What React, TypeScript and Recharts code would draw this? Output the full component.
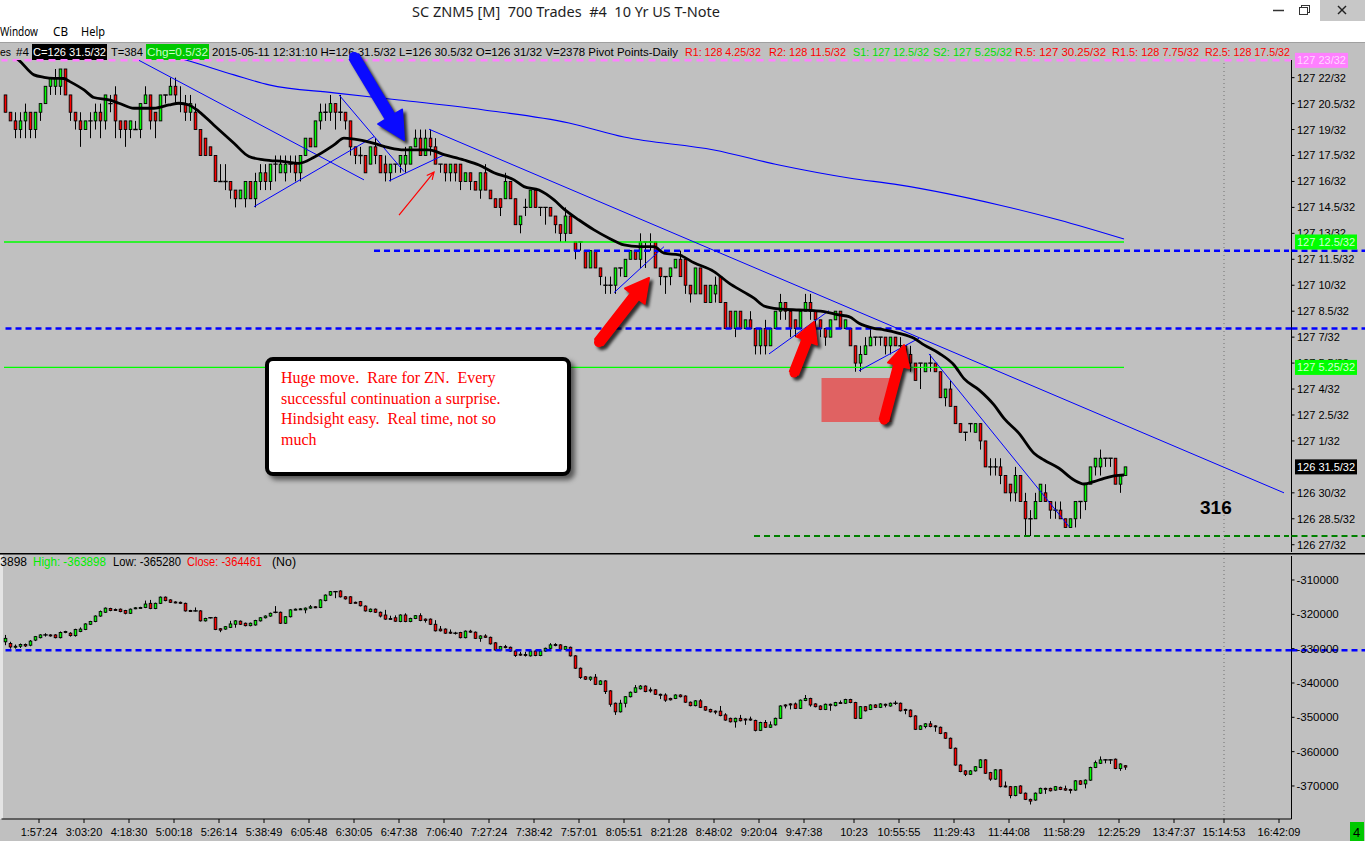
import React from 'react';
import { ComposedChart, Bar, Line, XAxis, YAxis, ReferenceLine, ReferenceArea } from 'recharts';

const FONT = "'Liberation Sans', Arial, Helvetica, sans-serif";
const UI_FONT = "'Noto Sans', 'Open Sans', 'Liberation Sans', sans-serif";
const UP = '#00ff00';
const DOWN = '#ff0000';
const TOTAL_SLOTS = 258;

// Price candles [open, high, low, close] in 32nds above 126 (127 22/32 = 54)
const priceCandles: number[][] = [
  [53,53,52,52],[52,52,51.5,51.5],[51.5,52,50.5,51],[51,52,50.5,51.5],[51.5,52.5,50.5,52],
  [52,52,50.5,51],[51,52,50.5,52],[52,52.5,51.5,52.5],[52.5,53.5,52.5,53.5],[53.5,54,53,54],
  [53.5,54.5,53,54],[53.5,54.5,53,54.5],[54.5,54.5,53,53],[53,53,51.5,52],[52,52,51,51.5],
  [51.5,52,50,51],[51,51.5,51,51.5],[51.5,52,50.5,51.5],[51.5,52.5,51,52],[52,52.5,50.5,51.5],
  [51.5,53,51,53],[52.5,53,52,52.5],[53,53.5,50.5,51.5],[51.5,51.5,50.5,51],[51.5,51.5,50,51],
  [51,51.5,50.5,51.5],[51,51.5,51,51],[51,52.5,50.5,52.5],[52.5,53.5,52.5,53],[53,53,51,51.5],
  [52,52,50.5,51.5],[51.5,53,51.5,53],[53,53,52.5,53],[53,54,53,53.5],[53.5,54,52.5,53],
  [52.5,53.5,52,52.5],[52.5,53,51.5,52],[52,53,51.5,52.5],[52,52.5,51,51],[51,51,49.5,49.5],
  [50.5,50.5,49.5,49.5],[50,50,49.5,49.5],[49.5,49.5,48,48],[48,49,48,48],[48,49,47.5,48],
  [48,48,47,47.5],[47.5,47.5,46.5,47],[47,47.5,47,47.5],[47,48,46.5,48],[48,48,47,47],
  [47,48.5,46.5,48],[48,49,47.5,48.5],[48.5,49,47.5,48],[48,49,47.5,49],[49,49.5,48,49],
  [48.5,49.5,48.5,49],[48.5,49.5,48,49],[49,49.5,48.5,49],[49,49.5,48,48.5],[48.5,49.5,48,49.5],
  [49.5,50.5,49.5,50.5],[50.5,50.5,50,50],[50,51.5,50,51.5],[51.5,52.5,51,52],[52,52.5,51.5,52],
  [52,53,51.5,52.5],[52.5,52.5,51,52],[52,53,51.5,52],[52,52,51,51.5],[51.5,51.5,49.5,50],
  [50,50,49,49.5],[49.5,50,49,49.5],[49.5,49.5,48.5,48.5],[49,50,49,50],[50,50.5,49,49.5],
  [49.5,49.5,48.5,48.5],[49,49.5,48,48.5],[48.5,49,48,49],[49,49,48.5,49],[49,49.5,48.5,49.5],
  [49,50,48.5,49.5],[49,50,49,50],[50,51,50,50.5],[50.5,51,49.5,49.5],[49.5,51,49.5,50.5],
  [50.5,51,49.5,50],[50,50.5,49,49],[49,49,48.5,49],[49,49,48,48.5],[48.5,49,48,49],
  [49,49,48,48.5],[49,49,47.5,48],[48,48.5,48,48.5],[48.5,48.5,47.5,48],[48,48,47.5,47.5],
  [47.5,48.5,47,48.5],[48.5,49,47.5,47.5],[47.5,47.5,47,47],[47,47,46.5,46.5],[47,47,46,46.5],
  [47,48.5,47,48],[48,48,47,47],[47,47,45.5,45.5],[45.5,46,45,46],[46.5,47,46,46.5],
  [46.5,47.5,46.5,47.5],[47.5,47.5,46.5,46.5],[46.5,46.5,46,46.5],[46.5,46.5,45.5,46.5],[46.5,46.5,46,46],
  [46,46,45,45.5],[45.5,45.5,44.5,45],[45,46.5,44.5,46],[46,46,45,45],[44.5,44.5,43.5,44],
  [44.5,44.5,44,44.5],[44,44,43,43],[43,44,43,44],[44,44,43,43],[43,43,42,42.5],
  [42,42.5,41.5,42],[42,42.5,41.5,42],[42,43,41.5,43],[43,43,42.5,43],[42.5,43.5,42.5,43.5],
  [43.5,44,43.5,44],[44,44,43.5,43.5],[43.5,45,43,44.5],[44.5,44.5,43,44.5],[44.5,45,44,44.5],
  [44.5,44.5,43,43],[43,43,42,42.5],[42.5,42.5,41.5,42.5],[42.5,43,42,43],[43,43.5,43,43.5],
  [43.5,44,42.5,42.5],[43.5,43.5,41.5,42],[42,42,41,41.5],[41.5,43,41.5,43],[43,43,41.5,41.5],
  [42,42,41,41],[41,42,41,42],[41.5,42.5,41,42],[42.5,42.5,41,41],[41,41,39.5,39.5],
  [40.5,40.5,39.5,39.5],[39.5,40.5,39,40.5],[40.5,40.5,39.5,39.5],[39.5,40,39.5,40],[40,40.5,39.5,39.5],
  [39.5,39.5,38,38.5],[38.5,39.5,38,39.5],[39.5,40,38,38.5],[38.5,39.5,38.5,39.5],[39.5,40.5,39.5,40.5],
  [40.5,41.5,40,41],[41,41,40,40.5],[40.5,40.5,39,39.5],[40,40,39,39.5],[39.5,40.5,39.5,40.5],
  [40.5,41.5,40.5,41],[41,41.5,40,40.5],[40.5,40.5,39.5,40],[40,40,39,39.5],[39.5,39.5,38.5,39],
  [39,40,39,40],[40,40.5,40,40.5],[40.5,40.5,39.5,39.5],[39.5,40,39.5,40],[39.5,39.5,38.5,38.5],
  [38.5,38.5,37,37.5],[37.5,38.5,37,38],[38,39,38,38.5],[38.5,39.5,38.5,39],[39,39,38.5,39],
  [39,39,38.5,39],[39,39,38,38.5],[38.5,39,38,39],[39,39,38.5,38.5],[38.5,39,38,38.5],
  [38.5,38.5,37.5,38],[38,38.5,37,37.5],[37.5,37.5,36.5,36.5],[37.5,37.5,36,37.5],[37,37.5,37,37.5],
  [37.5,38,37,37.5],[37.5,37.5,37,37],[37,37,35.5,35.5],[35.5,36,35,36],[36,36.5,35,35],
  [35,35,34,34],[34,34,33.5,33.5],[33.5,33.5,33,33.5],[34,34,33.5,34],[33.5,34,33.5,34],
  [34,34,32.5,33],[33,33,31.5,31.5],[31.5,32,31,31.5],[31.5,32,31,31.5],[31.5,32,30.5,31],
  [31,31,30,30],[30.5,30.5,29.5,30],[30,31.5,29.5,31],[31,31,29.5,29.5],[29.5,30,27.5,28.5],
  [28.5,29,27.5,28.5],[28.5,30,28.5,29.5],[29.5,30.5,29.5,30.5],[30,30.5,29.5,29.5],[29.5,29.5,28.5,29],
  [29,29.5,28.5,29],[29,29.5,28.5,28.5],[28.5,28.5,28,28],[28,28.5,28,28.5],[28.5,29.5,28,29.5],
  [29.5,29.5,28.5,29.5],[29.5,30.5,29,30.5],[30.5,31.5,30.5,31.5],[31.5,32,31,32],[31.5,32.5,31,32],
  [32,32,31.5,32],[32,32,31.5,32],[32,32,30.5,30.5],[30.5,31,30,31],[31,31.5,31,31.5],
];

// black moving average (read at selected bars)
const maIdx = [0,3,6,8,10,12,13,16,18,21,23,26,30,33,35,37,39,42,46,49,52,56,59,62,66,68,71,74,77,80,85,88,92,95,98,102,104,107,110,112,115,118,121,124,127,130,132,135,138,142,145,148,150,152,155,159,162,164,167,169,171,174,176,179,182,184,187,190,192,195,198,200,203,206,208,211,214,216,218,220,222,224];
const maVal = [55.6,55.0,54.16,54.02,53.96,53.95,53.8,53.29,52.85,52.71,52.52,52.23,52.23,52.42,52.52,52.42,52.04,51.25,50.21,49.44,49.25,49.15,49.05,49.4,50.11,50.5,50.4,50.2,49.95,49.82,49.82,49.55,49.24,48.95,48.5,48.09,47.7,47.5,46.93,46.4,45.77,45.2,44.72,44.33,44.23,44.23,43.85,43.75,43.3,42.79,42.12,41.6,41.25,40.8,40.63,40.57,40.53,40.48,40.28,40.19,39.8,39.51,39.42,39.22,38.93,38.55,38.07,37.39,36.6,35.95,35.08,34.3,33.44,32.29,31.9,31.42,30.74,30.51,30.65,30.84,30.98,31.03];

// slow blue moving average
const ma2Idx = [30,36,46,53,66,79,96,113,124,142,155,169,179,199,211,224];
const ma2Val = [55.5,55.05,54.16,53.58,53.12,52.71,52.13,51.38,50.57,49.82,48.95,48.2,47.8,46.64,45.77,44.67];

// Indicator candles [open, high, low, close] in thousands
const indicatorCandles: number[][] = [
  [-328,-326,-329,-327],[-328.5,-328,-330,-329.5],[-329.5,-328.8,-330,-329.3],[-329.3,-328.5,-329.8,-328.8],[-328.8,-328.5,-329.5,-329.2],
  [-329,-327.5,-329.3,-327.8],[-327.5,-326.3,-327.8,-326.5],[-326.8,-325.8,-327,-326],[-326,-325.5,-326.5,-326],[-326,-325.8,-326.5,-326.2],
  [-326,-325.8,-327,-326.8],[-326.8,-325,-327,-325.3],[-325.2,-324.8,-325.5,-325],[-325.5,-325.2,-326.5,-326.2],[-326.2,-324.2,-326.5,-324.4],
  [-325,-323.8,-325.2,-324.3],[-324.4,-322.6,-324.6,-322.8],[-322.9,-321.9,-323.1,-322.1],[-322.1,-320.3,-322.3,-320.5],[-320.5,-318.9,-320.7,-319.2],
  [-319.4,-318,-319.6,-318.2],[-318.3,-318.1,-319.1,-318.9],[-318.6,-318.3,-319,-318.7],[-318.5,-318.3,-319.4,-319.2],[-318.9,-318.7,-320,-319.7],
  [-319.7,-318.3,-319.9,-318.5],[-318.3,-317.9,-318.5,-318.1],[-318.1,-317.8,-318.3,-318],[-318,-316,-318.2,-317],[-316.8,-315.8,-318.5,-318.3],
  [-318.3,-316.6,-318.5,-316.8],[-316.8,-314.8,-317,-315],[-315,-314.8,-316.2,-316],[-315.8,-315.6,-316.7,-316.5],[-316.4,-316.2,-316.8,-316.6],
  [-316.5,-316.3,-317,-316.8],[-316.8,-316.6,-319.2,-319],[-318.9,-318.7,-319.2,-319],[-319,-318,-319.2,-319],[-319,-318.8,-322.1,-321.9],
  [-321.9,-321,-322.1,-321.2],[-321,-320.8,-321.2,-321],[-320.9,-320.7,-324.6,-324.4],[-324.2,-324,-325.2,-324.6],[-324.3,-323.4,-324.5,-323.6],
  [-323.8,-321.9,-324,-322.8],[-322.9,-321.7,-323.9,-321.9],[-322,-321.8,-323.1,-322.9],[-322.6,-322.4,-323.5,-323.3],[-323.3,-322.4,-323.5,-322.6],
  [-323.1,-321.6,-323.3,-321.8],[-321.9,-320.8,-322.1,-321],[-321,-320.3,-321.2,-320.5],[-320.5,-319.5,-320.7,-319.7],[-319.4,-317.6,-319.7,-319.4],
  [-319.4,-319.2,-322.8,-322.6],[-322.6,-320.5,-322.8,-320.7],[-320.7,-318.5,-320.9,-318.7],[-318.6,-318.3,-318.8,-318.5],[-318.5,-318.2,-318.7,-318.4],
  [-318.7,-318,-319.7,-318.2],[-318.2,-317.3,-318.4,-317.8],[-317.8,-317.6,-318.2,-318],[-318,-315.6,-318.2,-315.8],[-316,-314.2,-316.2,-314.4],
  [-314.4,-313.2,-314.6,-313.4],[-313.4,-313.2,-315.3,-313.4],[-313.2,-313,-315.1,-314.9],[-314.9,-314.7,-315.7,-315.5],[-314.9,-314.7,-317,-316.8],
  [-316.5,-316.3,-316.8,-316.6],[-316.3,-316.1,-317.7,-317.5],[-317.6,-317.4,-319.2,-319],[-319.2,-318.3,-319.4,-318.5],[-318.5,-318.3,-319.6,-319.4],
  [-319.4,-319.2,-320.9,-320.5],[-320.2,-318.7,-321.6,-321.4],[-321.2,-320.4,-321.6,-321.4],[-321,-320.3,-322.2,-322],[-322.1,-320,-322.3,-320.2],
  [-320.2,-319.7,-322.3,-322.1],[-322.1,-321,-322.3,-321.2],[-321.2,-320.2,-321.4,-320.4],[-320.4,-319.7,-322,-321.8],[-321.4,-321.2,-322.4,-321.8],
  [-321.4,-321.2,-323.1,-322.9],[-322.9,-321.7,-325,-324.8],[-324.3,-323.4,-325,-324.8],[-324.3,-324.1,-325.7,-325.5],[-325.2,-324.4,-325.7,-325.5],
  [-325.5,-325.1,-325.9,-325.5],[-325.3,-325.1,-327,-326.8],[-326.8,-324.7,-327,-324.9],[-324.9,-324.5,-325.4,-325.2],[-325.2,-325,-327.2,-327],
  [-327,-326.1,-328,-326.3],[-326.3,-325.8,-326.9,-326.7],[-326.7,-326.5,-328.8,-328.6],[-328.3,-328.1,-330.6,-330.4],[-330.4,-329.2,-330.6,-329.4],
  [-329.4,-328.9,-329.9,-329.7],[-329.6,-329.4,-330.9,-330.7],[-330.7,-330.5,-332.4,-332],[-331.6,-330.9,-332.1,-331.8],[-331.7,-330.9,-332.3,-332],
  [-332.1,-330.5,-332.3,-330.7],[-330.7,-330.5,-332.2,-332],[-332,-330.5,-332.2,-330.7],[-330.7,-329.7,-330.9,-329.9],[-329.9,-328.4,-330.1,-328.9],
  [-328.8,-328.4,-329.3,-329.1],[-328.9,-328.7,-330.4,-330.2],[-330.2,-329.2,-330.4,-329.4],[-329.6,-329.4,-332.3,-332.1],[-332.1,-331.9,-335.9,-335.7],
  [-335.7,-335.5,-338.8,-338.4],[-338.2,-338,-339.1,-338.9],[-338.9,-338.1,-339.4,-338.3],[-338.3,-337.4,-340.6,-340.4],[-340.4,-339.2,-340.6,-339.4],
  [-339.4,-339.2,-343.2,-342.5],[-342.3,-342.1,-346.9,-346.2],[-345.9,-345.7,-349.3,-348.4],[-348.4,-344.9,-348.6,-345.9],[-345.9,-343.8,-347.1,-344],
  [-344,-342.5,-344.2,-342.7],[-342.7,-340.6,-342.9,-341.4],[-341.7,-340.6,-341.9,-340.9],[-340.9,-340.7,-342.7,-342.5],[-342,-341.3,-342.8,-342.3],
  [-342,-341.8,-343.5,-343.3],[-343.3,-343.1,-344.7,-343.5],[-343.5,-343,-345.5,-345],[-344.5,-344.3,-345.1,-344.9],[-344.5,-343.3,-344.7,-343.5],
  [-343.5,-343.3,-344.2,-344],[-343.8,-343.6,-345.8,-345.6],[-345.6,-345.4,-346.8,-346.6],[-346.6,-345,-346.8,-345.2],[-345.2,-344.7,-347.3,-347.1],
  [-346.9,-346.7,-348.1,-347.9],[-347.7,-347.5,-348.6,-348.4],[-348.2,-348,-349.1,-348.4],[-348.2,-346.7,-349.7,-349.5],[-349.3,-348.8,-351,-350.8],
  [-350.3,-350.1,-351.5,-351.3],[-351.3,-350.1,-353,-350.3],[-350.3,-349.3,-351.2,-351],[-350.5,-350.3,-352.2,-350.8],[-350.5,-349.8,-351,-350.8],
  [-350.9,-350.7,-354.1,-353.8],[-353.8,-351.3,-354,-351.5],[-351.5,-350.8,-353.1,-352.9],[-352.9,-351.2,-353.1,-352.2],[-352.2,-350.1,-352.4,-350.3],
  [-350.3,-346.5,-350.5,-346.7],[-346.4,-346.2,-347.4,-346.7],[-346.1,-345.9,-347.7,-346.4],[-346.1,-345.7,-347.6,-347.4],[-347.4,-344.8,-347.6,-345],
  [-345.1,-343.5,-345.3,-344.5],[-344.5,-344.3,-346.9,-346.4],[-346.1,-345.9,-347.1,-346.9],[-346.7,-346.5,-347.9,-347.7],[-347.7,-346,-347.9,-346.2],
  [-346.2,-346,-348.1,-346.4],[-346.6,-345.5,-346.8,-345.7],[-345.7,-345.1,-346.1,-345.9],[-345.9,-344.6,-346.1,-344.8],[-344.8,-344.6,-345.9,-345.7],
  [-345.7,-345.5,-350.5,-350.3],[-350.3,-346.7,-350.5,-346.9],[-346.9,-346.7,-348.3,-348.1],[-347.7,-346.2,-347.9,-346.4],[-346.4,-346.2,-347.3,-347.1],
  [-347.1,-345.9,-347.3,-346.1],[-346.2,-346,-347.1,-346.4],[-346.7,-345.7,-346.9,-345.9],[-345.9,-345.2,-346.4,-345.9],[-345.9,-345.7,-348.3,-348.1],
  [-347.7,-347.5,-349.1,-347.9],[-347.9,-347.7,-350,-349.8],[-349.6,-349.4,-353.7,-353.5],[-353.5,-352.3,-353.7,-352.5],[-352.7,-351.7,-353.2,-351.9],
  [-351.9,-351.1,-352.9,-352.7],[-352.5,-352.3,-354.2,-352.7],[-352.9,-352.7,-354.9,-354.7],[-354.5,-354.3,-356.3,-356.1],[-356.1,-355.9,-359.2,-359],
  [-359,-358.8,-364.1,-363.9],[-363.9,-363.7,-366,-365.8],[-365.6,-365.4,-367.1,-366.6],[-366.6,-365.4,-366.8,-365.6],[-365.6,-364.2,-365.8,-364.4],
  [-364.6,-362.2,-364.8,-362.4],[-362.4,-362.2,-366.5,-366.3],[-366.1,-365.9,-368.5,-368],[-368,-365.1,-368.2,-365.3],[-365.3,-365.1,-370.4,-370.2],
  [-370,-368.7,-370.4,-370.2],[-370.2,-370,-373.6,-372.8],[-372.8,-370,-373,-370.2],[-370,-369.8,-372.3,-372.1],[-372.1,-371.9,-374.1,-373.9],
  [-373.9,-373.7,-375.4,-374.4],[-374.1,-371.9,-374.3,-372.1],[-372.1,-370.5,-372.3,-370.7],[-370.7,-370.5,-372.3,-370.9],[-370.7,-370.5,-371.6,-371.4],
  [-371.2,-370,-371.4,-370.2],[-370.4,-370.2,-371.2,-371],[-370.8,-369.9,-371.4,-371.2],[-371,-370.8,-372.2,-371.2],[-371.2,-368.3,-371.4,-368.5],
  [-368.5,-368.3,-369.7,-369.5],[-369.4,-368.1,-370.7,-368.3],[-368.3,-364.4,-368.5,-364.6],[-364.6,-362.6,-364.8,-363.2],[-363.4,-361.4,-363.6,-362.4],
  [-362.4,-362.2,-363.4,-362.4],[-362.4,-362.2,-363.6,-362.4],[-362.2,-362,-365.1,-364.9],[-364.9,-363.4,-365.6,-363.6],[-364.1,-363.9,-365.3,-364.5],
];

const xTickIdx = [7,16,25,34,43,52,61,70,79,88,97,106,115,124,133,142,151,160,170,179,190,201,212,223,234,244,255];
const xTickLabels = ['1:57:24','3:03:20','4:18:30','5:00:18','5:26:14','5:38:49','6:05:48','6:30:05','6:47:38','7:06:40','7:27:24','7:38:42','7:57:01','8:05:51','8:21:28','8:48:02','9:20:04','9:47:38','10:23','10:55:55','11:29:43','11:44:08','11:58:29','12:25:29','13:47:37','15:14:53','16:42:09'];

const priceTicks = [54,52.5,51,49.5,48,46.5,45,43.5,42,40.5,39,37.5,36,34.5,33,30,28.5,27];
const indicatorTicks = [-310,-320,-330,-340,-350,-360,-370];
const priceDomain: [number, number] = [26.58, 55.02];
const indicatorDomain: [number, number] = [-379.62, -303.01];

// levels
const pivotLevel = 55;       // 127 23/32
const s1Level = 44.5;        // 127 12.5/32
const s2Level = 37.25;       // 127 5.25/32
const lastPrice = 31.5;      // 126 31.5/32
const blueLevelA = 44;
const blueLevelB = 39.5;
const greenDashLevel = 27.5;
const indicatorLevel = -330.5;
const cursorIdx = 244;

// drawn trendlines [x1, y1, x2, y2] in bar index / price
const trendLines: number[][] = [
  [27,55.0,72,48.09],[50,46.54,74,50.59],[67,53.0,80,48.57],[77,48.03,88,49.53],
  [85,51.02,256,30.0],[122,41.57,132,44.23],[153,38.03,165,40.53],[171,37.06,183,38.94],[185,38.03,213,28.05],
];

const priceBoxes = [
  { v: pivotLevel, bg: '#ff80ff', fg: '#ffd6ff', w: 53 },
  { v: s1Level, bg: '#00ff00', fg: '#d2ffd2', w: 62 },
  { v: s2Level, bg: '#00ff00', fg: '#d2ffd2', w: 62 },
  { v: lastPrice, bg: '#000000', fg: '#ffffff', w: 62 },
];

function buildRows(candles: number[][], lines: { key: string; idx: number[]; val: number[] }[]) {
  const rows: any[] = [];
  for (let i = 0; i < TOTAL_SLOTS; i++) {
    const row: any = { i };
    const c = candles[i];
    if (c) {
      row.o = c[0]; row.h = c[1]; row.l = c[2]; row.c = c[3];
      row.range = [c[2], c[1]];
    }
    rows.push(row);
  }
  lines.forEach(({ key, idx, val }) => idx.forEach((ix, k) => { rows[ix][key] = val[k]; }));
  return rows;
}

const topRows = buildRows(priceCandles, [
  { key: 'ma', idx: maIdx, val: maVal },
  { key: 'ma2', idx: ma2Idx, val: ma2Val },
]);
const lowRows = buildRows(indicatorCandles, []);

function fmt32(v: number) {
  const whole = v >= 32 ? 127 : 126;
  const f = v >= 32 ? v - 32 : v;
  return `${whole} ${+f.toFixed(2)}/32`;
}

const Candle = (props: any) => {
  const { x, y, width, height, index } = props;
  const p = props.payload && props.payload.o != null ? props.payload : null;
  if (!p || x == null || y == null) return <g />;
  const { o, h, l, c } = p;
  const top = Math.min(y, y + height);
  const span = Math.abs(height);
  const k = h > l ? span / (h - l) : 0;
  const cx = Math.round(x + width / 2) + 0.5;
  const yo = top + (h - o) * k;
  const yc = top + (h - c) * k;
  const bt = Math.min(yo, yc);
  const bb = Math.max(yo, yc);
  const col = c > o ? UP : c < o ? DOWN : null;
  return (
    <g key={index}>
      <line x1={cx} x2={cx} y1={top} y2={top + span} stroke="#000" strokeWidth={1} />
      {col ? (
        <rect x={cx - 1.3} y={bt} width={2.6} height={Math.max(bb - bt, 1)} fill={col} stroke="#000" strokeWidth={0.9} />
      ) : (
        <line x1={cx - 2.2} x2={cx + 2.2} y1={yo} y2={yo} stroke="#000" strokeWidth={1.4} />
      )}
    </g>
  );
};

const FatArrow = (props: any) => {
  const { x1, y1, x2, y2, color, shaft, headW, headL, fid } = props;
  if (x1 == null) return <g />;
  const dx = x2 - x1, dy = y2 - y1;
  const len = Math.hypot(dx, dy) || 1;
  const ux = dx / len, uy = dy / len, nx = -uy, ny = ux;
  const bx = x2 - ux * headL, by = y2 - uy * headL;
  const s = shaft / 2, hw = headW / 2;
  const pt = (a: number, b: number) => `${a.toFixed(1)},${b.toFixed(1)}`;
  const d = `M${pt(x1 + nx * s, y1 + ny * s)} L${pt(bx + nx * s, by + ny * s)} L${pt(bx + nx * hw, by + ny * hw)} L${pt(x2, y2)} L${pt(bx - nx * hw, by - ny * hw)} L${pt(bx - nx * s, by - ny * s)} L${pt(x1 - nx * s, y1 - ny * s)} Z`;
  return (
    <g>
      <defs>
        <filter id={fid} x="-50%" y="-50%" width="200%" height="200%">
          <feGaussianBlur stdDeviation="1.8" />
        </filter>
      </defs>
      <g transform="translate(3,3)" filter={`url(#${fid})`} opacity={0.75}>
        <path d={d} fill="#000" strokeLinejoin="round" stroke="#000" strokeWidth={2} />
        <circle cx={x1} cy={y1} r={s} fill="#000" />
      </g>
      <path d={d} fill={color} stroke={color} strokeWidth={2} strokeLinejoin="round" />
      <circle cx={x1} cy={y1} r={s} fill={color} />
    </g>
  );
};

const ThinArrow = (props: any) => {
  const { x1, y1, x2, y2 } = props;
  if (x1 == null) return <g />;
  const a = Math.atan2(y2 - y1, x2 - x1);
  const L = 8;
  const p1 = [x2 - L * Math.cos(a - 0.45), y2 - L * Math.sin(a - 0.45)];
  const p2 = [x2 - L * Math.cos(a + 0.45), y2 - L * Math.sin(a + 0.45)];
  return (
    <g stroke="#ff0000" strokeWidth={1.2} fill="none">
      <line x1={x1} y1={y1} x2={x2} y2={y2} />
      <polyline points={`${p1[0]},${p1[1]} ${x2},${y2} ${p2[0]},${p2[1]}`} />
    </g>
  );
};

const PriceTick = (props: any) => {
  const { x, y, payload } = props;
  const v = payload.value;
  if (v === blueLevelA || v === blueLevelB) {
    return <line x1={x} x2={x + 80} y1={y} y2={y} stroke="#0000ff" strokeWidth={2.5} strokeDasharray="6 4" />;
  }
  if (v === greenDashLevel) {
    return <line x1={x} x2={x + 80} y1={y} y2={y} stroke="#008000" strokeWidth={2} strokeDasharray="6 4" />;
  }
  const box = priceBoxes.find((b) => b.v === v);
  const label = fmt32(v);
  if (box) {
    return (
      <g>
        <rect x={x + 3.5} y={y - 7.5} width={box.w} height={15} fill={box.bg} />
        <text x={x + 5.5} y={y + 4} fontSize={11} fill={box.fg} fontFamily={FONT}>{label}</text>
      </g>
    );
  }
  return (
    <g>
      <line x1={x} x2={x + 3} y1={y} y2={y} stroke="#000" strokeWidth={1} />
      <text x={x + 5.5} y={y + 4} fontSize={11} fill="#000" fontFamily={FONT}>{label}</text>
    </g>
  );
};

const IndicatorTick = (props: any) => {
  const { x, y, payload } = props;
  const v = payload.value;
  if (v === indicatorLevel) {
    return <line x1={x} x2={x + 80} y1={y} y2={y} stroke="#0000ff" strokeWidth={2.5} strokeDasharray="6 4" />;
  }
  return (
    <g>
      <line x1={x} x2={x + 3} y1={y} y2={y} stroke="#000" strokeWidth={1} />
      <text x={x + 5} y={y + 4} fontSize={11.5} fill="#000" fontFamily={FONT}>{String(Math.round(v * 1000))}</text>
    </g>
  );
};

const TimeTick = (props: any) => {
  const { x, y, payload } = props;
  const k = xTickIdx.indexOf(payload.value);
  return (
    <text x={x} y={y + 11} textAnchor="middle" fontSize={11} fill="#000" fontFamily={FONT}>
      {k >= 0 ? xTickLabels[k] : ''}
    </text>
  );
};

const T = ({ x, y, w, size = 11.5, fill = '#000', family = FONT, children, anchor }: any) => (
  <text
    x={x}
    y={y}
    textLength={w}
    lengthAdjust={w ? 'spacingAndGlyphs' : undefined}
    fontSize={size}
    fill={fill}
    fontFamily={family}
    textAnchor={anchor}
    style={{ whiteSpace: 'pre' }}
  >
    {children}
  </text>
);

const Chrome = () => (
  <svg width={1365} height={841} style={{ position: 'absolute', left: 0, top: 0 }}>
    <rect x={0} y={0} width={1365} height={22} fill="#ffffff" />
    <T x={412} y={17} w={308} size={14} fill="#1e1e1e" family={UI_FONT}>SC ZNM5 [M]  700 Trades  #4  10 Yr US T-Note</T>
    <line x1={1273} x2={1284} y1={10.5} y2={10.5} stroke="#333" strokeWidth={1.5} />
    <rect x={1301.5} y={5.5} width={8} height={7} fill="none" stroke="#333" strokeWidth={1} />
    <rect x={1299.5} y={7.5} width={8} height={7} fill="#fff" stroke="#333" strokeWidth={1} />
    <rect x={1320} y={0} width={45} height={21} fill="#c7c7c7" />
    <line x1={1338} x2={1346} y1={6} y2={14} stroke="#222" strokeWidth={1.5} />
    <line x1={1346} x2={1338} y1={6} y2={14} stroke="#222" strokeWidth={1.5} />
    <rect x={0} y={22} width={1365} height={21} fill="#ffffff" />
    <T x={0} y={36} w={38} size={12} family={UI_FONT}>Window</T>
    <T x={53} y={36} w={15} size={12} family={UI_FONT}>CB</T>
    <T x={81} y={36} w={24} size={12} family={UI_FONT}>Help</T>
    <line x1={0} x2={1365} y1={42.5} y2={42.5} stroke="#a0a0a0" strokeWidth={1} />
    {/* info bar */}
    <T x={0} y={56} w={11}>es</T>
    <T x={16} y={56} w={13}>#4</T>
    <rect x={32} y={44} width={75} height={16} fill="#000" />
    <T x={33} y={56} w={73} fill="#ffffff">C=126 31.5/32</T>
    <T x={111} y={56} w={32}>T=384</T>
    <rect x={146} y={44} width={63} height={16} fill="#00c800" />
    <T x={147} y={56} w={61} fill="#c8ffc8">Chg=0.5/32</T>
    <T x={212} y={56} w={466}>2015-05-11 12:31:10 H=126 31.5/32 L=126 30.5/32 O=126 31/32 V=2378 Pivot Points-Daily</T>
    <T x={685} y={56} w={76} fill="#ff0000">R1: 128 4.25/32</T>
    <T x={769} y={56} w={77} fill="#ff0000">R2: 128 11.5/32</T>
    <T x={853} y={56} w={76} fill="#00e000">S1: 127 12.5/32</T>
    <T x={933} y={56} w={79} fill="#00e000">S2: 127 5.25/32</T>
    <T x={1015} y={56} w={91} fill="#ff0000">R.5: 127 30.25/32</T>
    <T x={1112} y={56} w={87} fill="#ff0000">R1.5: 128 7.75/32</T>
    <T x={1205} y={56} w={85} fill="#ff0000">R2.5: 128 17.5/32</T>
    {/* separator between panels */}
    <rect x={0} y={553} width={1365} height={1.5} fill="#000" />
    <rect x={0} y={555} width={3} height={264} fill="#e4e4e4" />
    {/* lower panel header */}
    <T x={27} y={566} size={12} anchor="end">-363898</T>
    <T x={33} y={566} w={73} size={12} fill="#00ee00">High: -363898</T>
    <T x={113} y={566} w={68} size={12}>Low: -365280</T>
    <T x={187} y={566} w={75} size={12} fill="#ff0000">Close: -364461</T>
    <T x={272} y={566} w={24} size={12}>(No)</T>
    {/* status box */}
    <rect x={1350} y={822} width={14} height={19} fill="#00c800" />
    <T x={1353} y={837} size={13}>4</T>
  </svg>
);

export default function App() {
  return (
    <div style={{ position: 'absolute', left: 0, top: 0, width: 1365, height: 841, background: '#c0c0c0', overflow: 'hidden', fontFamily: FONT }}>
      <Chrome />
      {/* price panel */}
      <div style={{ position: 'absolute', left: 0, top: 52 }}>
        <ComposedChart width={1365} height={500} data={topRows} margin={{ top: 8, right: 0, bottom: 0, left: 1.5 }}>
          <XAxis dataKey="i" type="category" hide />
          <YAxis
            orientation="right"
            type="number"
            domain={priceDomain}
            allowDataOverflow
            width={73.5}
            ticks={[blueLevelA, blueLevelB, greenDashLevel, ...priceTicks, pivotLevel, s1Level, s2Level, lastPrice]}
            interval={0}
            tickLine={false}
            tickSize={0}
            tickMargin={0}
            axisLine={{ stroke: '#000', strokeWidth: 1 }}
            tick={(p: any) => <PriceTick {...p} />}
          />
          <ReferenceLine y={pivotLevel} stroke="#ff80ff" strokeWidth={2.5} strokeDasharray="7 5" />
          <ReferenceLine segment={[{ x: 0, y: s1Level }, { x: 224, y: s1Level }]} stroke="#00ff00" strokeWidth={1.4} />
          <ReferenceLine segment={[{ x: 0, y: s2Level }, { x: 224, y: s2Level }]} stroke="#00ff00" strokeWidth={1.4} />
          <ReferenceLine segment={[{ x: 74, y: blueLevelA }, { x: 257, y: blueLevelA }]} stroke="#0000ff" strokeWidth={2.5} strokeDasharray="6 4" />
          <ReferenceLine y={blueLevelB} stroke="#0000ff" strokeWidth={2.5} strokeDasharray="6 4" />
          <ReferenceLine segment={[{ x: 150, y: greenDashLevel }, { x: 257, y: greenDashLevel }]} stroke="#008000" strokeWidth={2} strokeDasharray="6 4" />
          <ReferenceLine x={cursorIdx} stroke="#707070" strokeDasharray="1 3" />
          <ReferenceArea x1={164} x2={177} y1={34.1} y2={36.64} fill="#e06262" fillOpacity={1} stroke="none" />
          {trendLines.map((t, k) => (
            <ReferenceLine key={`tl${k}`} segment={[{ x: t[0], y: t[1] }, { x: t[2], y: t[3] }]} stroke="#0000ff" strokeWidth={1} ifOverflow="visible" />
          ))}
          <Bar dataKey="range" barSize={4} isAnimationActive={false} shape={(p: any) => <Candle {...p} />} />
          <Line dataKey="ma2" type="monotone" stroke="#0000ff" strokeWidth={1.1} dot={false} activeDot={false} connectNulls isAnimationActive={false} />
          <Line dataKey="ma" type="monotone" stroke="#000000" strokeWidth={2.8} dot={false} activeDot={false} connectNulls isAnimationActive={false} />
          <ReferenceLine segment={[{ x: 79, y: 46.05 }, { x: 86, y: 48.54 }]} ifOverflow="visible" shape={(p: any) => <ThinArrow {...p} />} />
          <ReferenceLine segment={[{ x: 70, y: 55.2 }, { x: 80, y: 50.4 }]} ifOverflow="visible" shape={(p: any) => <FatArrow {...p} color="#0a0aff" shaft={10} headW={28} headL={27} fid="shb" />} />
          <ReferenceLine segment={[{ x: 119, y: 38.71 }, { x: 129, y: 42.42 }]} ifOverflow="visible" shape={(p: any) => <FatArrow {...p} color="#ff0000" shaft={10} headW={25} headL={23} fid="shr1" />} />
          <ReferenceLine segment={[{ x: 158, y: 36.93 }, { x: 162, y: 39.88 }]} ifOverflow="visible" shape={(p: any) => <FatArrow {...p} color="#ff0000" shaft={9} headW={22} headL={20} fid="shr2" />} />
          <ReferenceLine segment={[{ x: 176, y: 34.2 }, { x: 180, y: 38.54 }]} ifOverflow="visible" shape={(p: any) => <FatArrow {...p} color="#ff0000" shaft={9} headW={22} headL={21} fid="shr3" />} />
        </ComposedChart>
      </div>
      {/* indicator panel */}
      <div style={{ position: 'absolute', left: 0, top: 556 }}>
        <ComposedChart width={1365} height={285} data={lowRows} margin={{ top: 0, right: 0, bottom: 0, left: 1.5 }}>
          <XAxis
            dataKey="i"
            type="category"
            height={22}
            ticks={xTickIdx}
            interval={0}
            tickSize={4}
            tickMargin={2}
            tickLine={{ stroke: '#000' }}
            axisLine={{ stroke: '#000' }}
            tick={(p: any) => <TimeTick {...p} />}
          />
          <YAxis
            orientation="right"
            type="number"
            domain={indicatorDomain}
            allowDataOverflow
            width={73.5}
            ticks={[indicatorLevel, ...indicatorTicks]}
            interval={0}
            tickLine={false}
            tickSize={0}
            tickMargin={0}
            axisLine={{ stroke: '#000', strokeWidth: 1 }}
            tick={(p: any) => <IndicatorTick {...p} />}
          />
          <ReferenceLine x={cursorIdx} stroke="#707070" strokeDasharray="1 3" />
          <Bar dataKey="range" barSize={4} isAnimationActive={false} shape={(p: any) => <Candle {...p} />} />
          <ReferenceLine y={indicatorLevel} stroke="#0000ff" strokeWidth={2.5} strokeDasharray="6 4" />
        </ComposedChart>
      </div>
      {/* annotation box */}
      <div
        style={{
          position: 'absolute', left: 265, top: 357, width: 306, height: 119, boxSizing: 'border-box',
          background: '#ffffff', border: '4px solid #000', borderRadius: 8,
          boxShadow: '4px 4px 5px rgba(0,0,0,0.55)', padding: '7px 6px 0 12px',
          color: '#ff0000', fontFamily: "'Liberation Serif', 'Times New Roman', serif", fontSize: 16,
          lineHeight: '20.5px', whiteSpace: 'pre',
        }}
      >
        {'Huge move.  Rare for ZN.  Every\nsuccessful continuation a surprise.\nHindsight easy.  Real time, not so\nmuch'}
      </div>
      <svg width={1365} height={841} style={{ position: 'absolute', left: 0, top: 0, pointerEvents: 'none' }}>
        <text x={1200} y={514} fontSize={19} fontWeight="bold" fill="#000" fontFamily={FONT}>316</text>
      </svg>
    </div>
  );
}
